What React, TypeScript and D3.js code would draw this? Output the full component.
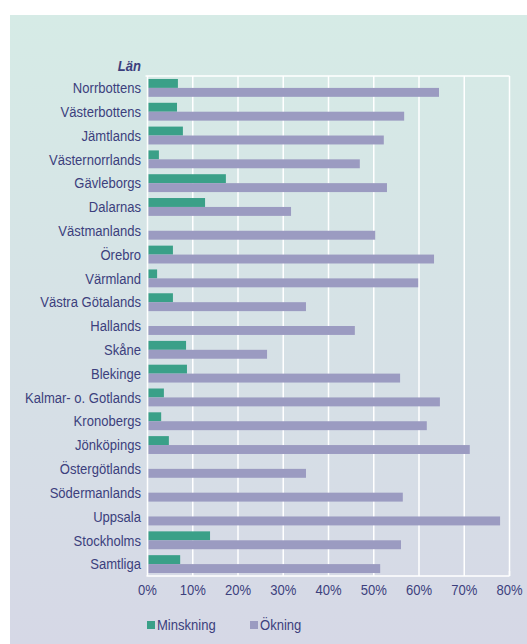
import React from 'react'
import * as d3 from 'd3'

const lan = [
  'Norrbottens', 'Västerbottens', 'Jämtlands', 'Västernorrlands', 'Gävleborgs',
  'Dalarnas', 'Västmanlands', 'Örebro', 'Värmland', 'Västra Götalands', 'Hallands',
  'Skåne', 'Blekinge', 'Kalmar- o. Gotlands', 'Kronobergs', 'Jönköpings',
  'Östergötlands', 'Södermanlands', 'Uppsala', 'Stockholms', 'Samtliga',
]
const minskning = [6.5, 6.3, 7.6, 2.3, 17.1, 12.5, 0, 5.4, 1.9, 5.4, 0, 8.3, 8.5, 3.4, 2.8, 4.5, 0, 0, 0, 13.6, 7.0]
const okning = [64.2, 56.5, 52.0, 46.7, 52.7, 31.5, 50.1, 63.1, 59.6, 34.8, 45.6, 26.2, 55.6, 64.4, 61.5, 71.0, 34.8, 56.2, 77.7, 55.8, 51.2]
const ticks = [0, 10, 20, 30, 40, 50, 60, 70, 80]

const W = 527
const H = 644
const left = 147.5
const right = 509.5
const top = 76
const bottom = 576
const green = '#3aa088'
const purple = '#9b9bc1'
const ink = '#3c3f7d'
const font = '"Liberation Sans", Arial, sans-serif'

// text is a bit narrow and tall in the original
const Label = ({ x, y, anchor = 'start', children, ...rest }: any) => (
  <text transform={`translate(${x},${y}) scale(0.9,1)`} textAnchor={anchor} fontSize={14.5} fill={ink} {...rest}>
    {children}
  </text>
)

const App = () => {
  const x = d3.scaleLinear().domain([0, 80]).range([left, right])
  const y = d3.scaleBand().domain(lan).range([top, bottom]).paddingInner(0.25).paddingOuter(0.125)
  const half = y.bandwidth() / 2

  return (
    <svg width={W} height={H} style={{ position: 'absolute', left: 0, top: 0 }} fontFamily={font}>
      <defs>
        <linearGradient id="bg" x1="0" y1="0" x2="0" y2="1">
          <stop offset="0" stopColor="#d6ebe6" />
          <stop offset="1" stopColor="#d6d8e6" />
        </linearGradient>
      </defs>
      <rect x={10} y={15} width={W - 10} height={H - 15} fill="url(#bg)" />

      {ticks.map(t => (
        <line key={t} x1={x(t)} x2={x(t)} y1={top} y2={bottom} stroke="#fff" strokeWidth={1.5} />
      ))}
      <line x1={left - 2} x2={right} y1={top} y2={top} stroke="#fff" strokeWidth={1.5} />
      <line x1={left - 1} x2={right} y1={bottom} y2={bottom} stroke="#fff" strokeWidth={1.5} />
      <line x1={right} x2={right} y1={bottom - 5} y2={bottom} stroke="#fff" strokeWidth={1.5} />

      {lan.map((d, i) => (
        <g key={d}>
          {minskning[i] > 0 && (
            <rect x={x(0) + 1} y={y(d)} width={x(minskning[i]) - x(0)} height={half} fill={green} />
          )}
          <rect x={x(0) + 1} y={(y(d) as number) + half} width={x(okning[i]) - x(0)} height={half} fill={purple} />
          <Label x={141} y={(y(d) as number) + half} dy="0.36em" anchor="end">
            {d}
          </Label>
        </g>
      ))}

      <Label x={141} y={71} anchor="end" fontWeight="bold" fontStyle="italic">
        Län
      </Label>

      {ticks.map(t => (
        <Label key={t} x={x(t)} y={595} anchor="middle">
          {t}%
        </Label>
      ))}

      <rect x={147} y={621} width={8} height={8} fill={green} />
      <Label x={157} y={630}>Minskning</Label>
      <rect x={250} y={621} width={8} height={8} fill={purple} />
      <Label x={260} y={630}>Ökning</Label>
    </svg>
  )
}

export default App
